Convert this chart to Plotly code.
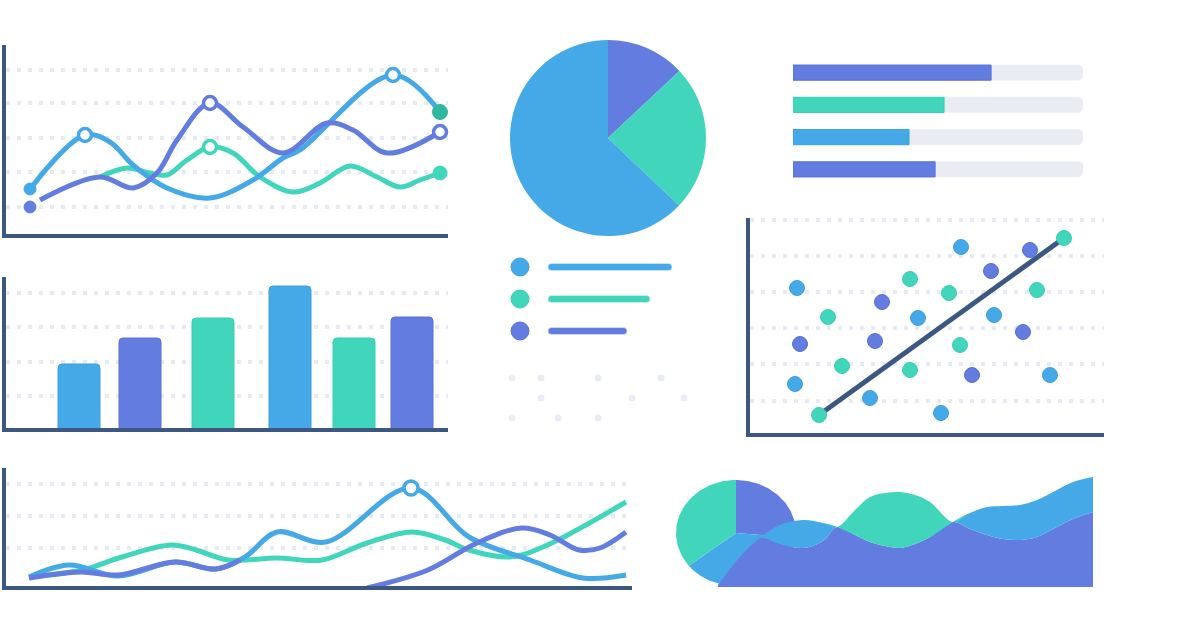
import numpy as np
import plotly.graph_objects as go

# ---------------- data ----------------
# Panel 1: top-left line chart (x, y measured from the axis origin)
p1_blue_x = [27, 82, 107, 130, 164, 207, 250, 280, 297, 390, 437]
p1_blue_y = [47, 101, 94, 71, 48, 38, 56, 78, 86, 161, 124]
p1_indigo_x = [37, 97, 130, 154, 174, 207, 240, 280, 324, 350, 384, 437]
p1_indigo_y = [36, 59, 48, 63, 96, 133, 109, 83, 113, 106, 83, 104]
p1_teal_x = [97, 124, 147, 164, 184, 207, 230, 257, 290, 317, 347, 374, 397, 417, 437]
p1_teal_y = [59, 68, 63, 61, 76, 89, 83, 59, 44, 53, 70, 59, 49, 56, 63]
p1_open_blue_x, p1_open_blue_y = [82, 390], [101, 161]
p1_open_indigo_x, p1_open_indigo_y = [207, 437], [133, 104]
p1_open_teal_x, p1_open_teal_y = [207], [89]
p1_start_blue = ([27], [47])
p1_start_indigo = ([27], [29])
p1_end_teal = ([437], [63])
p1_end_dteal = ([437], [124])
p1_grid = [29, 64, 98, 133, 166]

# Panel 2: bar chart
p2_x = [76, 137, 210, 287, 351, 409]
p2_h = [66, 92, 112, 144, 92, 113]
p2_grid = [34, 68, 103, 137]

# Panel 3: bottom line chart
p3_blue_x = [26, 66, 115, 172, 213, 242, 274, 323, 408, 466, 527, 580, 623]
p3_blue_y = [11, 23, 12, 26, 19, 31, 56, 46, 100, 51, 28, 10, 13]
p3_teal_x = [26, 79, 119, 168, 193, 225, 274, 319, 364, 409, 442, 466, 507, 540, 623]
p3_teal_y = [11, 18, 31, 43, 38, 28, 30, 28, 45, 56, 48, 38, 31, 41, 86]
p3_ind1_x = [26, 77, 115, 172, 213, 237]
p3_ind1_y = [10, 16, 13, 26, 19, 28]
p3_ind2_x = [364, 425, 474, 519, 547, 576, 597, 623]
p3_ind2_y = [0, 18, 45, 60, 53, 38, 40, 56]
p3_open = ([408], [100])
p3_grid = [40, 72, 104]

# Panel 4: progress bars (percent)
p4_rows = [0, 1, 2, 3]
p4_vals = [68.3, 52.1, 40.0, 49.0]
p4_track = [100, 100, 100, 100]

# Panel 5: legend block
p5_rows = [17, 49, 81]
p5_len = [124, 102, 79]
p5_dot_x = [12, 41, 98, 161, 41, 132, 184, 12, 58, 98]
p5_dot_y = [128, 128, 128, 128, 148, 148, 148, 168, 168, 168]

# Panel 6: scatter
p6_blue_x = [51, 49, 124, 172, 215, 248, 195, 304]
p6_blue_y = [148, 52, 38, 118, 189, 121, 23, 61]
p6_ind_x = [136, 54, 129, 245, 284, 277, 226]
p6_ind_y = [134, 92, 95, 165, 186, 104, 61]
p6_teal_x = [82, 96, 164, 203, 214, 164, 291, 73, 318]
p6_teal_y = [119, 70, 157, 143, 91, 66, 146, 21, 198]
p6_trend_x = [73, 318]
p6_trend_y = [21, 198]
p6_grid = [35, 72, 108, 144, 180, 216]

# Top pie shares
pie_vals = [13.0, 24.1, 62.9]

# Panel 7: area + small pie
p7_x = [48, 70, 90, 110, 133, 153, 167, 185, 200, 215, 230, 245, 260, 283, 300, 317, 333, 350, 367, 383, 403, 423]
p7_indigo = [2, 30, 49, 43, 39, 46, 60, 52, 45, 41, 39, 43, 50, 65, 58, 52, 48, 47, 50, 58, 68, 75]
p7_blue = [0, 0, 0, 19, 28, 18, 0, 0, 0, 0, 0, 0, 0, 0, 16, 28, 33, 35, 37, 37, 37, 35]
p7_teal = [0, 0, 0, 0, 0, 0, 0, 25, 45, 53, 56, 49, 35, 0, 0, 0, 0, 0, 0, 0, 0, 0]
p7_pie_vals = [26.4, 38.0, 35.6]

# ---------------- style ----------------
BLUE = "#45A9E8"
TEAL = "#41D6BB"
INDIGO = "#637CE0"
NAVY = "#3D5783"
GRID = "#E6EAF3"
TRACK = "#E9ECF3"
DOT = "#E8ECF4"
DTEAL = "#2FB8A0"
W, H = 1200, 630

fig = go.Figure()
layout = dict(width=W, height=H, margin=dict(l=0, r=0, t=0, b=0),
              paper_bgcolor="white", plot_bgcolor="rgba(0,0,0,0)",
              showlegend=False, barmode="overlay", hovermode=False)


def panel(n, ox, oy, x0, x1, ytop, ybot, xline=False, yline=False, grid=None, rev=False):
    s = "" if n == 1 else str(n)
    base = dict(showgrid=False, zeroline=False, showticklabels=False, ticks="",
                fixedrange=True, linecolor=NAVY, linewidth=4)
    xa = dict(base, domain=[x0 / W, x1 / W], range=[x0 - ox, x1 - ox],
              anchor="y" + s, showline=xline)
    if rev:
        yr = [ybot - oy, ytop - oy]
    else:
        yr = [oy - ybot, oy - ytop]
    ya = dict(base, domain=[1 - ybot / H, 1 - ytop / H], range=yr,
              anchor="x" + s, showline=yline)
    if grid is not None:
        ya.update(showgrid=True, tickvals=grid, gridcolor=GRID, gridwidth=4,
                  griddash="4px,7px", tickmode="array")
    layout["xaxis" + s] = xa
    layout["yaxis" + s] = ya
    return "x" + s, "y" + s


def line(ax, x, y, color, w=5, sm=1.0):
    fig.add_trace(go.Scatter(x=x, y=y, xaxis=ax[0], yaxis=ax[1], mode="lines",
                             line=dict(color=color, width=w, shape="spline", smoothing=sm),
                             hoverinfo="skip"))


def dots(ax, x, y, color, size, open_=False, lc=None):
    if open_:
        m = dict(color="white", size=size, line=dict(color=color, width=3.5))
    else:
        m = dict(color=color, size=size, line=dict(color=lc or color, width=1))
    fig.add_trace(go.Scatter(x=x, y=y, xaxis=ax[0], yaxis=ax[1], mode="markers",
                             marker=m, cliponaxis=False, hoverinfo="skip"))


# Panel 1
a1 = panel(1, 3, 236, 5.5, 448, 45, 234, True, True, p1_grid)
line(a1, p1_teal_x, p1_teal_y, TEAL)
line(a1, p1_blue_x, p1_blue_y, BLUE)
line(a1, p1_indigo_x, p1_indigo_y, INDIGO)
dots(a1, *p1_start_blue, BLUE, 12)
dots(a1, *p1_start_indigo, INDIGO, 12)
dots(a1, *p1_end_teal, TEAL, 14)
dots(a1, *p1_end_dteal, DTEAL, 15)
dots(a1, p1_open_blue_x, p1_open_blue_y, BLUE, 13, True)
dots(a1, p1_open_indigo_x, p1_open_indigo_y, INDIGO, 13, True)
dots(a1, p1_open_teal_x, p1_open_teal_y, TEAL, 13, True)

# Panel 2
a2 = panel(2, 3, 430, 5.5, 448, 277, 428, True, True, p2_grid)
bar_cols = [BLUE, INDIGO, TEAL, BLUE, TEAL, INDIGO]
bar_lines = ["#3A9FE0", "#5670DA", "#36CFB2", "#3A9FE0", "#36CFB2", "#5670DA"]
fig.add_trace(go.Bar(x=p2_x, y=p2_h, xaxis=a2[0], yaxis=a2[1], width=42,
                     marker=dict(color=bar_cols, line=dict(color=bar_lines, width=1),
                                 cornerradius=4), hoverinfo="skip"))

# Panel 3
a3 = panel(3, 3, 588, 5.5, 632, 468, 586, True, True, p3_grid)
line(a3, p3_teal_x, p3_teal_y, TEAL)
line(a3, p3_blue_x, p3_blue_y, BLUE)
line(a3, p3_ind1_x, p3_ind1_y, INDIGO)
line(a3, p3_ind2_x, p3_ind2_y, INDIGO)
dots(a3, *p3_open, BLUE, 14, True)

# Panel 4 progress bars
a4x = dict(showgrid=False, zeroline=False, showticklabels=False, ticks="", fixedrange=True, showline=False)
layout["xaxis4"] = dict(a4x, domain=[793 / W, 1083 / W], range=[0, 100], anchor="y4")
layout["yaxis4"] = dict(a4x, domain=[1 - 185.5 / H, 1 - 56.5 / H], range=[3.5, -0.5], anchor="x4")
fig.add_trace(go.Bar(x=p4_track, y=p4_rows, orientation="h", xaxis="x4", yaxis="y4", width=0.47,
                     marker=dict(color=TRACK, cornerradius=5), hoverinfo="skip"))
fig.add_trace(go.Bar(x=p4_vals, y=p4_rows, orientation="h", xaxis="x4", yaxis="y4", width=0.47,
                     marker=dict(color=[INDIGO, TEAL, BLUE, INDIGO],
                                 line=dict(color=["#5670DA", "#36CFB2", "#3A9FE0", "#5670DA"], width=1),
                                 cornerradius=5), hoverinfo="skip"))

# Panel 5 legend block
a5 = panel(5, 500, 250, 500, 700, 250, 430, rev=True)
fig.add_trace(go.Bar(x=p5_len, y=p5_rows, base=48, orientation="h", xaxis=a5[0], yaxis=a5[1],
                     width=7, marker=dict(color=[BLUE, TEAL, INDIGO], cornerradius=3.5),
                     hoverinfo="skip"))
fig.add_trace(go.Scatter(x=[20, 20, 20], y=p5_rows, xaxis=a5[0], yaxis=a5[1], mode="markers",
                         marker=dict(color=[BLUE, TEAL, INDIGO], size=18,
                                     line=dict(color=["#3A9FE0", "#36CFB2", "#5670DA"], width=1)),
                         cliponaxis=False, hoverinfo="skip"))
fig.add_trace(go.Scatter(x=p5_dot_x, y=p5_dot_y, xaxis=a5[0], yaxis=a5[1], mode="markers",
                         marker=dict(color=DOT, size=7), hoverinfo="skip"))

# Panel 6 scatter
a6 = panel(6, 746, 436, 750, 1104, 218, 433, True, True, p6_grid)
fig.add_trace(go.Scatter(x=p6_trend_x, y=p6_trend_y, xaxis=a6[0], yaxis=a6[1], mode="lines",
                         line=dict(color=NAVY, width=5), hoverinfo="skip"))
dots(a6, p6_blue_x, p6_blue_y, BLUE, 15, lc="#3A9FE0")
dots(a6, p6_ind_x, p6_ind_y, INDIGO, 15, lc="#5670DA")
dots(a6, p6_teal_x, p6_teal_y, TEAL, 15, lc="#36CFB2")

# Top pie
fig.add_trace(go.Pie(values=pie_vals, sort=False, direction="clockwise", rotation=0,
                     marker=dict(colors=[INDIGO, TEAL, BLUE], line=dict(width=0)),
                     textinfo="none", hoverinfo="skip",
                     domain=dict(x=[510 / W, 706 / W], y=[1 - 236 / H, 1 - 40 / H])))

# Panel 7 small pie + stacked area
a7 = panel(7, 670, 587, 670, 1100, 470, 600)
cx, cy, rx, ry = 66, 54, 60, 53
cum = np.concatenate([[0], np.cumsum(p7_pie_vals)]) / np.sum(p7_pie_vals) * 360
for i, col in enumerate([INDIGO, BLUE, TEAL]):
    t = np.radians(np.linspace(cum[i], cum[i + 1], 80))
    xs = np.concatenate([[cx], cx + rx * np.sin(t), [cx]])
    ys = np.concatenate([[cy], cy + ry * np.cos(t), [cy]])
    fig.add_trace(go.Scatter(x=xs, y=ys, xaxis=a7[0], yaxis=a7[1], mode="lines", fill="toself",
                             fillcolor=col, line=dict(width=0, color=col), hoverinfo="skip"))
for vals, col in [(p7_indigo, INDIGO), (p7_blue, BLUE), (p7_teal, TEAL)]:
    fig.add_trace(go.Scatter(x=p7_x, y=vals, xaxis=a7[0], yaxis=a7[1], mode="lines",
                             stackgroup="area", fillcolor=col,
                             line=dict(width=0, color=col, shape="spline", smoothing=1.0),
                             hoverinfo="skip"))

fig.update_layout(**layout)
fig.write_html("out.html", config={"displayModeBar": False, "staticPlot": True},
               post_script="document.body.style.margin='0px';document.body.style.overflow='hidden';")
